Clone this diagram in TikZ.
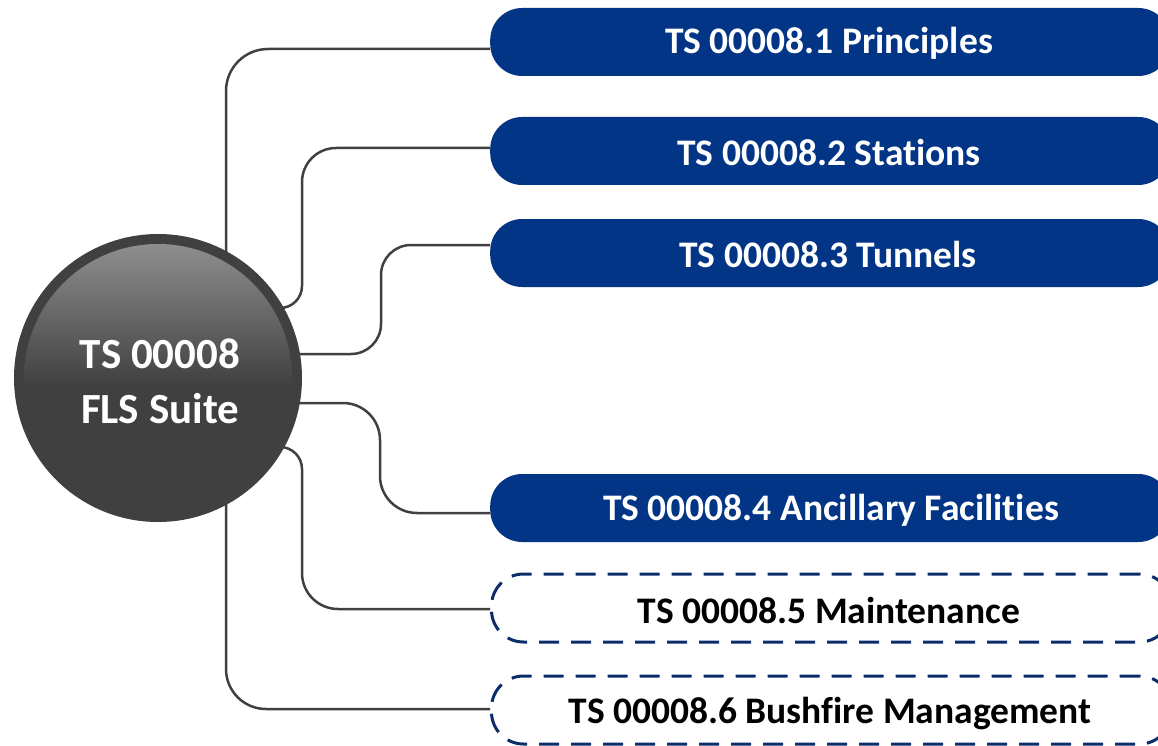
\documentclass[tikz,border=0pt]{standalone}
\usepackage{fontspec}
\setmainfont{Carlito}[Ligatures={NoCommon}]
\usetikzlibrary{calc}
\definecolor{tsblue}{HTML}{033586}
\definecolor{dashblue}{HTML}{0B2E6B}
\definecolor{conngray}{HTML}{404040}
\definecolor{circdark}{HTML}{404040}
\definecolor{circlight}{HTML}{8E8E8E}
\tikzset{
  bluebox/.style={fill=tsblue, rounded corners=32pt, minimum width=680pt, minimum height=68pt,
    anchor=west, inner sep=0pt},
  dashbox/.style={draw=dashblue, line width=3pt, dash pattern=on 20pt off 12pt, rounded corners=32pt,
    minimum width=680pt, minimum height=68pt, anchor=west, inner sep=0pt},
  boxtext/.style={font=\fontsize{37.5}{40}\selectfont\bfseries},
  conn/.style={draw=conngray, line width=2.5pt},
  hub/.style={circle, fill=circdark, minimum size=288pt, inner sep=0pt}
}
\begin{document}
\begin{tikzpicture}[x=1pt,y=-1pt]
\useasboundingbox (0,0) rectangle (1158,746);
\begin{scope}
\clip (0,0) rectangle (1158,746);
\node[bluebox] (b1) at (490,42) {};
\node[bluebox] (b2) at (490,151) {};
\node[bluebox] (b3) at (490,253) {};
\node[bluebox] (b4) at (490,508) {};
\node[dashbox] (b5) at (490,608) {};
\node[dashbox] (b6) at (490,710) {};
\end{scope}
% texts
\node[boxtext, text=white] (t1) at (829,43) {TS 00008.1 Principles};
\node[boxtext, text=white] (t2) at (829,152) {TS 00008.2 Stations};
\node[boxtext, text=white] (t3) at (828,254) {TS 00008.3 Tunnels};
\node[boxtext, text=white] (t4) at (831,510) {TS 00008.4 Ancillary Facilities};
\node[boxtext, text=black] (t5) at (829,610) {TS 00008.5 Maintenance};
\node[boxtext, text=black] (t6) at (830,714) {TS 00008.6 Bushfire Management};
% hub centre
\coordinate (hc) at (158,378);
% connectors
\draw[conn, rounded corners=42pt] ($(hc)+(68,0)$) |- ([yshift=-7pt]b1.west);
\draw[conn, rounded corners=22pt] ($(hc)+(92,-70)$) -- ($(hc)+(144,-70)$) [rounded corners=34pt] |- ([yshift=3pt]b2.west);
\draw[conn, rounded corners=30pt] ($(hc)+(92,-24)$) -- ($(hc)+(223,-24)$) |- ([yshift=8pt]b3.west);
\draw[conn, rounded corners=37pt] ($(hc)+(92,25)$) -- ($(hc)+(222,25)$) |- ([yshift=-5pt]b4.west);
\draw[conn, rounded corners=22pt] ($(hc)+(92,69)$) -- ($(hc)+(144,69)$) [rounded corners=36pt] |- ([yshift=-1pt]b5.west);
\draw[conn, rounded corners=40pt] ($(hc)+(68,0)$) |- ([yshift=1pt]b6.west);
% hub
\node[hub] (hub) at (hc) {};
\begin{scope}
\clip (hc) circle (134pt);
\shade[top color=circlight, bottom color=circdark, middle color=circdark] ($(hc)+(-134,-134)$) rectangle ($(hc)+(134,150)$);
\end{scope}
\node[text=white, font=\fontsize{43}{55}\selectfont\bfseries, align=center] (hubtext) at (160,381) {TS 00008\\FLS Suite};
\end{tikzpicture}
\end{document}
